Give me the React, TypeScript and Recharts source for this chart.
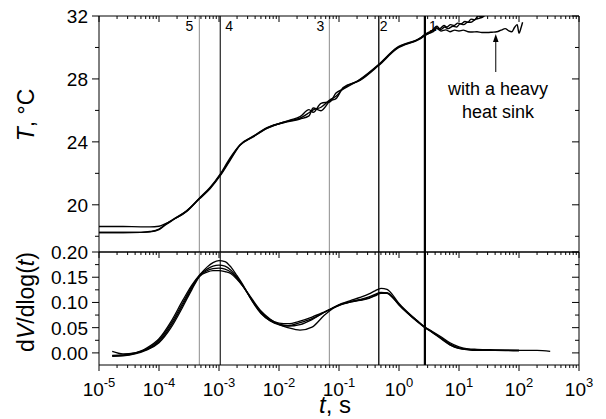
import React from 'react';
import { LineChart, Line, XAxis, YAxis, ReferenceLine } from 'recharts';

const FONT = '"Liberation Sans", Arial, sans-serif';

// temperature transients, x as log10(t / s)
const topLog = [-5.0, -4.6, -4.3, -4.15, -4.0, -3.9, -3.76, -3.54, -3.32, -3.15, -2.98, -2.82, -2.65, -2.43, -2.2, -1.82, -1.65, -1.5, -1.43, -1.3, -1.15, -1.05, -0.93, -0.65, -0.34, -0.04, 0.35, 0.43];
const tempA = [18.24, 18.24, 18.25, 18.28, 18.42, 18.7, 19.05, 19.58, 20.43, 21.06, 21.9, 22.86, 23.81, 24.34, 24.87, 25.35, 25.5, 25.85, 26.03, 26.2, 26.67, 26.9, 27.4, 27.94, 28.89, 29.95, 30.58, 30.8];
const tempB = [18.62, 18.62, 18.6, 18.6, 18.64, 18.78, 19.07, 19.6, 20.45, 21.1, 21.95, 22.95, 23.8, 24.36, 24.9, 25.3, 25.45, 25.65, 26.15, 25.98, 26.6, 26.75, 27.45, 27.9, 28.85, 29.9, 30.55, 30.75];
const tempC = [18.24, 18.24, 18.25, 18.3, 18.46, 18.74, 19.08, 19.62, 20.4, 21.02, 21.85, 22.8, 23.78, 24.32, 24.85, 25.38, 25.6, 26.05, 25.88, 26.45, 26.55, 27.1, 27.35, 27.98, 28.92, 29.98, 30.6, 30.82];

const tailLogA = [0.52, 0.57, 0.63, 0.68, 0.75, 0.8, 0.86, 0.92, 0.98, 1.03, 1.1, 1.15, 1.2, 1.26, 1.32, 1.38, 1.45];
const tailA = [30.95, 31.15, 31.35, 31.2, 31.4, 31.3, 31.45, 31.4, 31.55, 31.5, 31.65, 31.6, 31.8, 31.75, 32.0, 31.95, 32.3];
const tailLogC = [0.52, 0.57, 0.62, 0.7, 0.76, 0.82, 0.9, 0.96, 1.02, 1.08, 1.14, 1.2, 1.27, 1.33, 1.4, 1.48];
const tailC = [31.0, 31.05, 31.25, 31.15, 31.3, 31.2, 31.35, 31.3, 31.5, 31.45, 31.6, 31.6, 31.78, 31.85, 31.95, 32.2];
// the run with a heavy heat sink
const sinkLog = [0.5, 0.57, 0.63, 0.7, 0.78, 0.85, 0.93, 1.0, 1.07, 1.15, 1.22, 1.3, 1.38, 1.47, 1.55, 1.63, 1.7, 1.77, 1.83, 1.88, 1.93, 1.97, 2.0, 2.03, 2.06];
const sinkTemp = [30.9, 31.0, 31.2, 31.05, 31.12, 31.0, 31.1, 31.05, 31.1, 31.0, 30.98, 31.0, 30.95, 30.95, 30.97, 31.0, 31.1, 31.2, 31.05, 31.0, 31.3, 31.45, 30.9, 31.2, 31.6];

// dV/dlog(t) spectra
const botLog = [-4.78, -4.6, -4.4, -4.2, -4.0, -3.8, -3.6, -3.45, -3.32, -3.2, -3.1, -3.0, -2.9, -2.8, -2.7, -2.6, -2.45, -2.3, -2.15, -2.0, -1.85, -1.65, -1.45, -1.25, -1.1, -0.95, -0.8, -0.65, -0.5, -0.4, -0.3, -0.2, -0.1, 0.0, 0.15, 0.3, 0.42, 0.55, 0.7, 0.85, 1.0, 1.15, 1.3, 1.6, 2.0, 2.3, 2.52];
const dv1 = [0.003, -0.002, 0.0, 0.01, 0.028, 0.062, 0.105, 0.135, 0.155, 0.17, 0.179, 0.183, 0.181, 0.17, 0.153, 0.135, 0.103, 0.078, 0.064, 0.057, 0.054, 0.06, 0.068, 0.08, 0.09, 0.098, 0.104, 0.11, 0.117, 0.123, 0.128, 0.126, 0.114, 0.098, 0.08, 0.064, 0.052, 0.041, 0.029, 0.016, 0.009, 0.007, 0.006, 0.005, 0.005, 0.005, 0.003];
const dv2 = [-0.006, -0.005, -0.001, 0.008, 0.025, 0.058, 0.1, 0.132, 0.154, 0.166, 0.172, 0.174, 0.172, 0.164, 0.15, 0.133, 0.104, 0.079, 0.064, 0.056, 0.053, 0.056, 0.066, 0.08, 0.089, 0.097, 0.102, 0.106, 0.111, 0.116, 0.12, 0.119, 0.109, 0.095, 0.078, 0.063, 0.052, 0.042, 0.03, 0.018, 0.01, 0.007, 0.006, 0.005, 0.005];
const dv3 = [-0.005, -0.004, 0.0, 0.007, 0.022, 0.054, 0.096, 0.129, 0.153, 0.163, 0.167, 0.168, 0.166, 0.16, 0.148, 0.132, 0.105, 0.081, 0.066, 0.059, 0.058, 0.063, 0.071, 0.081, 0.089, 0.096, 0.101, 0.104, 0.108, 0.113, 0.118, 0.118, 0.109, 0.096, 0.079, 0.064, 0.052, 0.043, 0.032, 0.02, 0.012, 0.008, 0.007, 0.006, 0.005];
const dv4 = [-0.007, -0.006, -0.002, 0.006, 0.02, 0.05, 0.092, 0.126, 0.152, 0.16, 0.163, 0.163, 0.161, 0.157, 0.146, 0.132, 0.107, 0.083, 0.067, 0.056, 0.05, 0.045, 0.051, 0.074, 0.088, 0.097, 0.101, 0.105, 0.109, 0.114, 0.119, 0.119, 0.11, 0.096, 0.078, 0.062, 0.051, 0.041, 0.028, 0.016, 0.009, 0.006, 0.005, 0.005, 0.004];

// marked time constants
const markTimes = [4.7e-4, 1.05e-3, 0.069, 0.46, 2.7];
const markTags = ['5', '4', '3', '2', '1'];

const decades = [-5, -4, -3, -2, -1, 0, 1, 2, 3];
const tempTicks = [18, 20, 22, 24, 26, 28, 30, 32];
const dvTicks = [0, 0.025, 0.05, 0.075, 0.1, 0.125, 0.15, 0.175, 0.2];

const xTicks: number[] = [];
decades.forEach((n) => {
  xTicks.push(Number(`1e${n}`));
  if (n < 3) for (let k = 2; k <= 9; k++) xTicks.push(Number(`${k}e${n}`));
});

const series = (logs: number[], vals: number[]) => logs.map((l, i) => ({ t: Math.pow(10, l), v: vals[i] }));

const topSeries = [
  series([...topLog, ...tailLogA], [...tempA, ...tailA]),
  series([...topLog, ...sinkLog], [...tempB, ...sinkTemp]),
  series([...topLog, ...tailLogC], [...tempC, ...tailC]),
];
const botSeries = [
  series(botLog, dv1),
  series(botLog.slice(0, dv2.length), dv2),
  series(botLog.slice(0, dv3.length), dv3),
  series(botLog.slice(0, dv4.length), dv4),
];

const markStroke = ['#8c8c8c', '#222', '#8c8c8c', '#222', '#000'];
const markWidth = [1, 1.2, 1, 1.5, 2.2];
const markDx = [-6, 5, -5, 1, 4];

const XTick = (props: any) => {
  const { x, y, payload, labels } = props;
  const v = payload.value as number;
  const e = Math.round(Math.log10(v));
  const major = Math.abs(Math.log10(v) - e) < 1e-6;
  return (
    <g>
      <line x1={x} x2={x} y1={y} y2={y + (major ? 6 : 3)} stroke="#000" strokeWidth={1} />
      {labels && major && (
        <text x={x} y={y + 31} textAnchor="middle" fontSize={19} fontFamily={FONT} fill="#000">
          10<tspan dy={-9} fontSize={13}>{e}</tspan>
        </text>
      )}
    </g>
  );
};

const YTick = (props: any) => {
  const { x, y, payload, labels, step, digits } = props;
  const v = payload.value as number;
  const major = Math.abs(v / step - Math.round(v / step)) < 1e-6;
  const len = major ? 7 : 4;
  return (
    <g>
      <line x1={x - len} x2={x} y1={y} y2={y} stroke="#000" strokeWidth={1} />
      {labels && major && (
        <text x={x - len - 4} y={y} dy="0.36em" textAnchor="end" fontSize={19} fontFamily={FONT} fill="#000">
          {v.toFixed(digits)}
        </text>
      )}
    </g>
  );
};

const tagLabel = (tag: string, dx: number) => (p: any) => {
  const vb = p.viewBox || { x: 0, y: 0 };
  return (
    <text x={vb.x + dx} y={vb.y + 15} textAnchor={dx < 0 ? 'end' : 'start'} fontSize={14} fontFamily={FONT} fill="#000">
      {tag}
    </text>
  );
};

const Arrow = (p: any) => {
  const { x1, y1, x2, y2 } = p;
  const top = Math.min(y1, y2);
  const bottom = Math.max(y1, y2);
  return (
    <g>
      <line x1={x1} x2={x2} y1={bottom} y2={top + 5} stroke="#000" strokeWidth={1} />
      <polygon points={`${x1},${top} ${x1 - 2.8},${top + 8} ${x1 + 2.8},${top + 8}`} fill="#000" />
    </g>
  );
};

const axisLine = { stroke: '#000', strokeWidth: 1 };
const W = 606;
const H = 419;
const LEFT = 99;
const RIGHT = 27;

export default function App() {
  return (
    <div style={{ position: 'absolute', left: 0, top: 0, width: W, height: H, background: '#fff', fontFamily: FONT }}>
      <div style={{ position: 'absolute', left: 0, top: 0 }}>
        <LineChart width={W} height={H} margin={{ top: 0, right: 0, bottom: 0, left: 0 }}>
          <XAxis xAxisId="b" dataKey="t" type="number" scale="log" domain={[1e-5, 1e3]} allowDataOverflow
            orientation="bottom" height={H - 252} tick={false} tickLine={false} axisLine={axisLine} />
          <XAxis xAxisId="t" dataKey="t" type="number" scale="log" domain={[1e-5, 1e3]} allowDataOverflow
            orientation="top" height={16} ticks={xTicks} interval={0} tickSize={0} tickMargin={0} tickLine={false}
            tick={<XTick labels={false} />} axisLine={axisLine} />
          <YAxis yAxisId="l" type="number" domain={[17, 32]} allowDataOverflow orientation="left" width={LEFT}
            ticks={tempTicks} interval={0} tickSize={0} tickMargin={0} tickLine={false}
            tick={<YTick labels step={4} digits={0} />} axisLine={axisLine} />
          <YAxis yAxisId="r" type="number" domain={[17, 32]} allowDataOverflow orientation="right" width={RIGHT}
            ticks={tempTicks} interval={0} tickSize={0} tickMargin={0} tickLine={false}
            tick={<YTick labels={false} step={4} digits={0} />} axisLine={axisLine} />
          {markTimes.map((t, i) => (
            <ReferenceLine key={t} x={t} xAxisId="b" yAxisId="l" stroke={markStroke[i]} strokeWidth={markWidth[i]}
              label={tagLabel(markTags[i], markDx[i])} />
          ))}
          <ReferenceLine xAxisId="b" yAxisId="l" segment={[{ x: 41, y: 28.44 }, { x: 41, y: 30.85 }]} shape={Arrow} />
          {topSeries.map((d, i) => (
            <Line key={i} xAxisId="b" yAxisId="l" data={d} dataKey="v" type="monotone" dot={false}
              stroke="#000" strokeWidth={1.4} isAnimationActive={false} />
          ))}
        </LineChart>
      </div>
      <div style={{ position: 'absolute', left: 0, top: 0 }}>
        <LineChart width={W} height={H} margin={{ top: 0, right: 0, bottom: 0, left: 0 }}>
          <XAxis xAxisId="b" dataKey="t" type="number" scale="log" domain={[1e-5, 1e3]} allowDataOverflow
            orientation="bottom" height={H - 365} ticks={xTicks} interval={0} tickSize={0} tickMargin={0} tickLine={false}
            tick={<XTick labels />} axisLine={axisLine} />
          <XAxis xAxisId="t" dataKey="t" type="number" scale="log" domain={[1e-5, 1e3]} allowDataOverflow
            orientation="top" height={252} ticks={xTicks} interval={0} tickSize={0} tickMargin={0} tickLine={false}
            tick={<XTick labels={false} />} axisLine={axisLine} />
          <YAxis yAxisId="l" type="number" domain={[-0.024, 0.2]} allowDataOverflow orientation="left" width={LEFT}
            ticks={dvTicks} interval={0} tickSize={0} tickMargin={0} tickLine={false}
            tick={<YTick labels step={0.05} digits={2} />} axisLine={axisLine} />
          <YAxis yAxisId="r" type="number" domain={[-0.024, 0.2]} allowDataOverflow orientation="right" width={RIGHT}
            ticks={dvTicks} interval={0} tickSize={0} tickMargin={0} tickLine={false}
            tick={<YTick labels={false} step={0.05} digits={2} />} axisLine={axisLine} />
          {markTimes.map((t, i) => (
            <ReferenceLine key={t} x={t} xAxisId="b" yAxisId="l" stroke={markStroke[i]} strokeWidth={markWidth[i]} />
          ))}
          {botSeries.map((d, i) => (
            <Line key={i} xAxisId="b" yAxisId="l" data={d} dataKey="v" type="monotone" dot={false}
              stroke="#000" strokeWidth={1.3} isAnimationActive={false} />
          ))}
        </LineChart>
      </div>
      <div style={{ position: 'absolute', left: 440, top: 78, width: 116, textAlign: 'center', fontSize: 18, lineHeight: '23px' }}>
        with a heavy<br />heat sink
      </div>
      <div style={{ position: 'absolute', left: 26 - 100, top: 115 - 14, width: 200, height: 28, lineHeight: '28px', textAlign: 'center', fontSize: 23, transform: 'rotate(-90deg)', whiteSpace: 'nowrap' }}>
        <i>T</i>, °C
      </div>
      <div style={{ position: 'absolute', left: 26 - 100, top: 302 - 14, width: 200, height: 28, lineHeight: '28px', textAlign: 'center', fontSize: 23, transform: 'rotate(-90deg)', whiteSpace: 'nowrap' }}>
        d<i>V</i>/dlog(<i>t</i>)
      </div>
      <div style={{ position: 'absolute', left: 335 - 50, top: 392, width: 100, height: 26, lineHeight: '26px', textAlign: 'center', fontSize: 24, whiteSpace: 'nowrap' }}>
        <i>t</i>, s
      </div>
    </div>
  );
}
